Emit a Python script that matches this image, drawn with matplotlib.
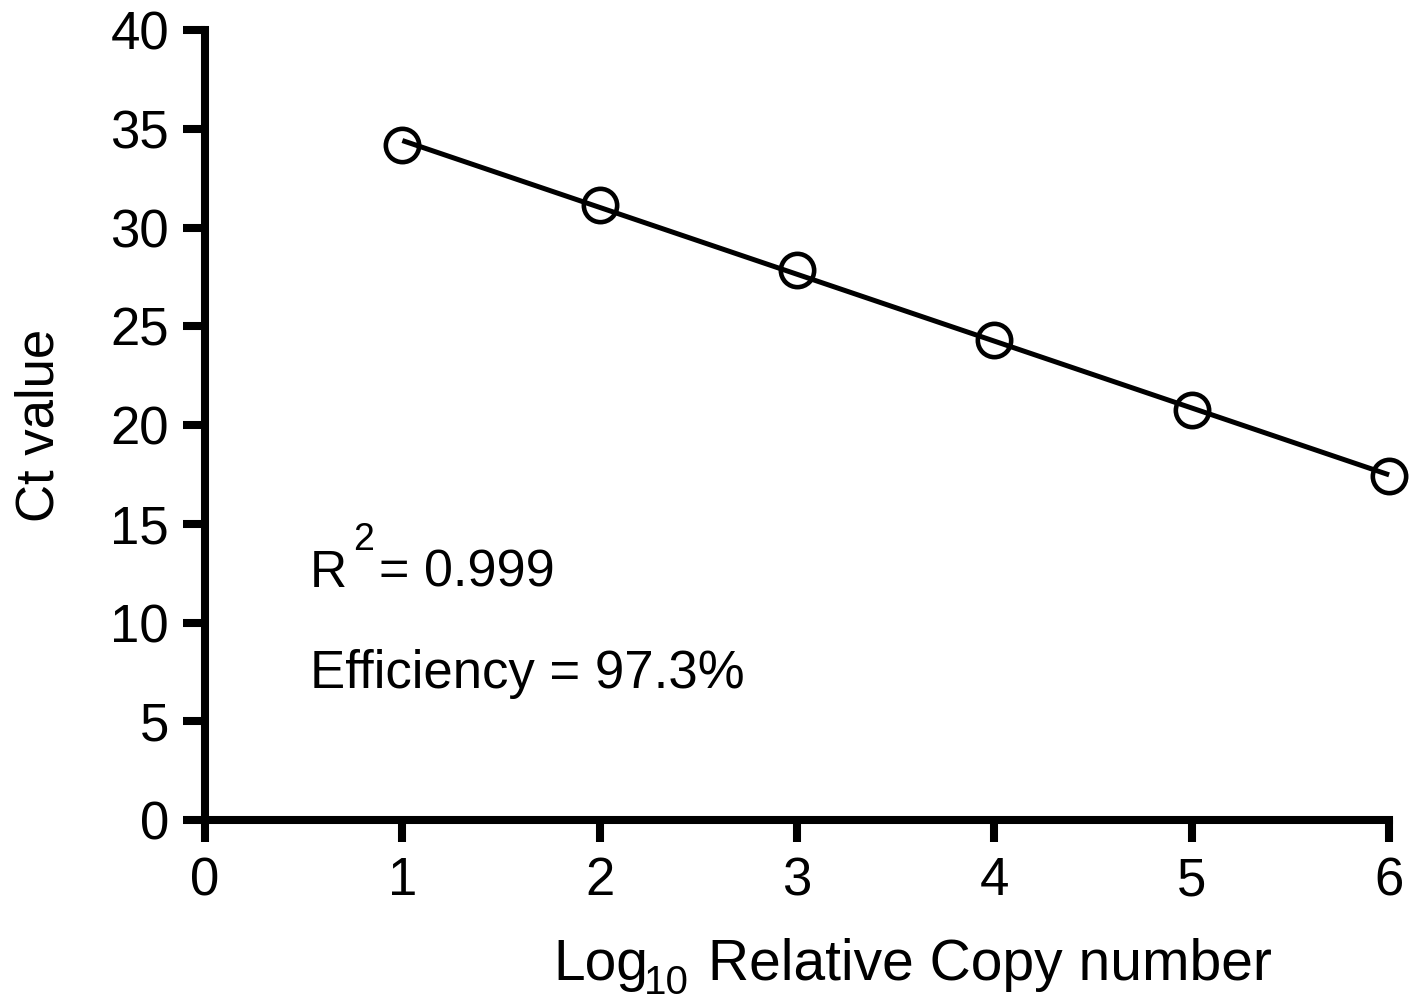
import matplotlib
matplotlib.use("Agg")
import matplotlib.pyplot as plt
import numpy as np

plt.rcParams['font.family'] = ['Liberation Sans', 'DejaVu Sans']

# standard curve data
log_copy = np.array([1, 2, 3, 4, 5, 6])
ct_value = np.array([34.18, 31.14, 27.85, 24.30, 20.76, 17.42])
r2_text = "0.999"
eff_text = "97.3%"

x_ticks = [0, 1, 2, 3, 4, 5, 6]
y_ticks = [0, 5, 10, 15, 20, 25, 30, 35, 40]

W, H = 1416, 1002
fig = plt.figure(figsize=(W / 100, H / 100), dpi=100)
ax = fig.add_axes([0.1448, 0.1816, 0.8362, 0.7884])

# linear fit through the standards
slope, intercept = np.polyfit(log_copy, ct_value, 1)
fit_x = np.array([log_copy.min(), log_copy.max()])
ax.plot(fit_x, slope * fit_x + intercept, color='black', lw=3.6,
        solid_capstyle='butt', clip_on=False, zorder=2)
ax.plot(log_copy, ct_value, 'o', ms=24, mfc='none', mec='black', mew=3.3,
        clip_on=False, zorder=3)

ax.set_xlim(0, 6)
ax.set_ylim(0, 40)
ax.set_xticks(x_ticks)
ax.set_yticks(y_ticks)

for side in ['top', 'right']:
    ax.spines[side].set_visible(False)
for side in ['left', 'bottom']:
    ax.spines[side].set_linewidth(5.8)
    ax.spines[side].set_capstyle('projecting')

ax.tick_params(axis='both', direction='out', length=16, width=5.8,
               labelsize=38, pad=10, color='black')

ax.set_ylabel('Ct value', fontsize=38, labelpad=33)

# x label built in pieces so the subscript sits like the original
fig.text(553 / W, 1 - 980 / H, 'Log', fontsize=41, ha='left', va='baseline')
fig.text(644 / W, 1 - 994 / H, '10', fontsize=29, ha='left', va='baseline')
fig.text(708 / W, 1 - 980 / H, 'Relative Copy number', fontsize=41,
         ha='left', va='baseline')

# fit statistics
x0, y_r2, y_eff = 0.53, 11.8, 6.68
ax.text(x0, y_r2, 'R', fontsize=37, ha='left', va='baseline')
ax.annotate('2', xy=(x0, y_r2), xycoords='data', xytext=(31, 26.6),
            textcoords='offset points', fontsize=27, ha='left', va='baseline')
ax.annotate('= ' + r2_text, xy=(x0, y_r2), xycoords='data', xytext=(50, 0),
            textcoords='offset points', fontsize=37.5, ha='left', va='baseline')
ax.text(x0, y_eff, 'Efficiency = ' + eff_text, fontsize=38, ha='left', va='baseline')

fig.savefig('out.png', dpi=100)
